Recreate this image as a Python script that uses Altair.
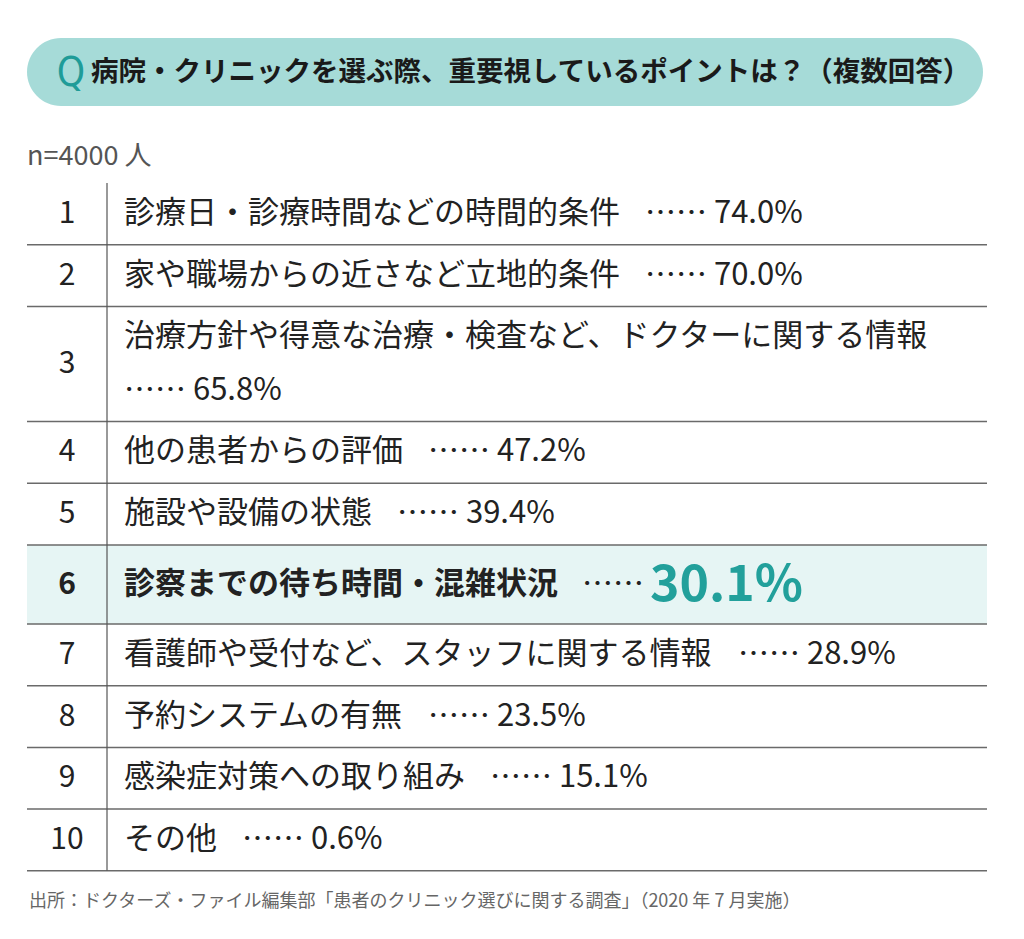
import altair as alt
import pandas as pd

# ---------------- data ----------------
title_q = "Q"
title_text = "病院・クリニックを選ぶ際、重要視しているポイントは？（複数回答）"
sample_note = "n=4000 人"
source_note = "出所：ドクターズ・ファイル編集部「患者のクリニック選びに関する調査」（2020 年 7 月実施）"

ranks = [1, 2, 3, 4, 5, 6, 7, 8, 9, 10]
labels = [
    "診療日・診療時間などの時間的条件",
    "家や職場からの近さなど立地的条件",
    "治療方針や得意な治療・検査など、ドクターに関する情報",
    "他の患者からの評価",
    "施設や設備の状態",
    "診察までの待ち時間・混雑状況",
    "看護師や受付など、スタッフに関する情報",
    "予約システムの有無",
    "感染症対策への取り組み",
    "その他",
]
values = [74.0, 70.0, 65.8, 47.2, 39.4, 30.1, 28.9, 23.5, 15.1, 0.6]
highlight_rank = 6

# ---------------- layout ----------------
FONT = "Noto Sans CJK JP"
W, H = 1008, 923
X0, Y0 = 8, 8  # page margin -> image coordinates
xs = alt.Scale(domain=[X0, X0 + W], nice=False, zero=False)
ys = alt.Scale(domain=[Y0, Y0 + H], nice=False, zero=False, reverse=True)

LEFT, RIGHT = 27, 987
DIVIDER_X = 107
RANK_X = 67
LABEL_X = 124
FS = 31
VFS = 31
ROW_H = 61.7
LINE_EXTRA = 53.5
HL_H = 79
TABLE_TOP = 183
DOTS = "……"


def val_str(v):
    return f"{v:.1f}%"


rows = []
texts = []
y = TABLE_TOP
for r, lab, v in zip(ranks, labels, values):
    hl = r == highlight_rank
    vs = DOTS + " " + val_str(v)
    est_width = (len(lab) + 1) * FS + len(vs) * FS * 0.55
    wrap = est_width > (RIGHT - LABEL_X)
    h = HL_H if hl else ROW_H + (LINE_EXTRA if wrap else 0)
    top, bottom = y, y + h
    mid = (top + bottom) / 2
    rows.append(dict(rank=r, top=top, bottom=bottom, mid=mid, hl=hl))
    lab_end = LABEL_X + (len(lab) + 1) * FS
    if hl:
        texts.append(dict(x=LABEL_X, y=mid, t=lab, kind="hl_label"))
        texts.append(dict(x=lab_end - 7, y=mid, t=DOTS, kind="dots"))
        texts.append(dict(x=lab_end + 2 * FS - 1, y=mid + 1, t=val_str(v), kind="big"))
    elif wrap:
        texts.append(dict(x=LABEL_X, y=top + ROW_H / 2, t=lab, kind="label"))
        texts.append(dict(x=LABEL_X, y=bottom - ROW_H / 2, t=vs, kind="value"))
    else:
        texts.append(dict(x=LABEL_X, y=mid, t=lab, kind="label"))
        texts.append(dict(x=lab_end - 6, y=mid, t=vs, kind="value"))
    y = bottom

rows_df = pd.DataFrame(rows)
texts_df = pd.DataFrame(texts)
table_bottom = rows_df["bottom"].max()

# ---------------- marks ----------------
pill = alt.Chart(pd.DataFrame([dict(x=LEFT, x2=983, y=38, y2=106)])).mark_rect(
    color="#a6dbd8", cornerRadius=34
).encode(
    x=alt.X("x:Q", scale=xs, axis=None),
    x2="x2:Q",
    y=alt.Y("y:Q", scale=ys, axis=None),
    y2="y2:Q",
)

q_mark = alt.Chart(pd.DataFrame([dict(x=71, y=74, t=title_q)])).mark_text(
    font="'DejaVu Sans Condensed', Lato, 'Noto Sans', sans-serif", fontSize=40,
    color="#1f9c98", align="center", baseline="middle"
).encode(x=alt.X("x:Q", scale=xs), y=alt.Y("y:Q", scale=ys), text="t:N")

title = alt.Chart(pd.DataFrame([dict(x=91, y=73, t=title_text)])).mark_text(
    font=FONT, fontSize=27.5, fontWeight="bold", color="#1a1a1a", align="left", baseline="middle"
).encode(x=alt.X("x:Q", scale=xs), y=alt.Y("y:Q", scale=ys), text="t:N")

note = alt.Chart(pd.DataFrame([dict(x=27, y=157, t=sample_note)])).mark_text(
    font=FONT, fontSize=27, color="#555555", align="left", baseline="middle"
).encode(x=alt.X("x:Q", scale=xs), y=alt.Y("y:Q", scale=ys), text="t:N")

hl_bg = alt.Chart(rows_df[rows_df["hl"]].assign(l=LEFT, r=RIGHT)).mark_rect(
    color="#e6f5f4"
).encode(
    x=alt.X("l:Q", scale=xs), x2="r:Q",
    y=alt.Y("top:Q", scale=ys), y2="bottom:Q",
)

hrules = alt.Chart(rows_df.assign(l=LEFT, r=RIGHT)).mark_rule(
    color="#6a6a6a", strokeWidth=1.5
).encode(
    x=alt.X("l:Q", scale=xs), x2="r:Q",
    y=alt.Y("bottom:Q", scale=ys),
)

vrule = alt.Chart(pd.DataFrame([dict(x=DIVIDER_X, y=TABLE_TOP, y2=table_bottom)])).mark_rule(
    color="#555555", strokeWidth=1.2
).encode(
    x=alt.X("x:Q", scale=xs),
    y=alt.Y("y:Q", scale=ys), y2="y2:Q",
)

rank_norm = alt.Chart(rows_df[~rows_df["hl"]].assign(x=RANK_X)).mark_text(
    font=FONT, fontSize=30, color="#222222", align="center", baseline="middle"
).encode(x=alt.X("x:Q", scale=xs), y=alt.Y("mid:Q", scale=ys), text="rank:N")

rank_hl = alt.Chart(rows_df[rows_df["hl"]].assign(x=RANK_X)).mark_text(
    font=FONT, fontSize=30, fontWeight="bold", color="#222222", align="center", baseline="middle"
).encode(x=alt.X("x:Q", scale=xs), y=alt.Y("mid:Q", scale=ys), text="rank:N")


def text_layer(kind, **kw):
    base = dict(font=FONT, align="left", baseline="middle", color="#222222")
    base.update(kw)
    return alt.Chart(texts_df[texts_df["kind"] == kind]).mark_text(**base).encode(
        x=alt.X("x:Q", scale=xs), y=alt.Y("y:Q", scale=ys), text="t:N"
    )


labels_layer = text_layer("label", fontSize=FS)
values_layer = text_layer("value", fontSize=VFS)
hl_label_layer = text_layer("hl_label", fontSize=FS, fontWeight="bold")
dots_layer = text_layer("dots", fontSize=FS)
big_layer = text_layer("big", fontSize=50, fontWeight="bold", color="#22a09b")

footer = alt.Chart(pd.DataFrame([dict(x=29, y=902, t=source_note)])).mark_text(
    font=FONT, fontSize=18, color="#666666", align="left", baseline="middle"
).encode(x=alt.X("x:Q", scale=xs), y=alt.Y("y:Q", scale=ys), text="t:N")

chart = alt.layer(
    pill, q_mark, title, note, hl_bg, hrules, vrule, rank_norm, rank_hl,
    labels_layer, values_layer, hl_label_layer, dots_layer, big_layer, footer,
).properties(
    width=W, height=H, padding=0,
    autosize=alt.AutoSizeParams(type="fit", contains="padding"),
    background="white",
).configure_view(stroke=None)

chart.save("out.html", embed_options={"renderer": "svg", "actions": False})
